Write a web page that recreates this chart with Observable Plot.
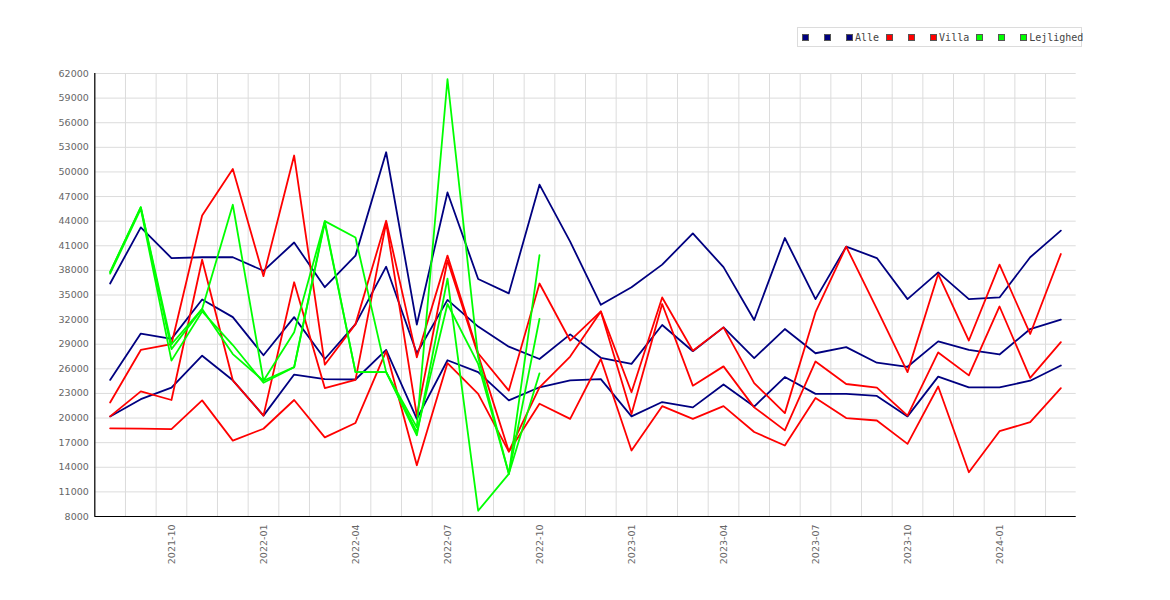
<!DOCTYPE html>
<html><head><meta charset="utf-8">
<script src="https://cdn.jsdelivr.net/npm/d3@7"></script>
<script src="https://cdn.jsdelivr.net/npm/@observablehq/plot@0.6"></script>
<style>
body{margin:0;background:#fff;}
#wrap{position:relative;width:1170px;height:600px;overflow:hidden;}
#chart{position:absolute;left:0;top:0;}
#legend{position:absolute;left:797px;top:27px;width:279px;height:18px;border:1px solid #dcdcdc;background:#fff;
  font-family:"DejaVu Sans Mono",monospace;font-size:10px;color:#444;display:flex;align-items:center;padding-left:4px;box-sizing:content-box;white-space:nowrap;}
.sq{display:inline-block;width:5px;height:5px;border:1px solid #555;margin-right:15px;flex:none;}
.sq.last{margin-right:2px;}
.lb{margin-right:7px;}
</style></head>
<body>
<div id="wrap"><div id="chart"></div><div id="legend"></div></div>
<script>
const months = ["2021-08","2021-09","2021-10","2021-11","2021-12","2022-01","2022-02","2022-03","2022-04","2022-05","2022-06","2022-07","2022-08","2022-09","2022-10","2022-11","2022-12","2023-01","2023-02","2023-03","2023-04","2023-05","2023-06","2023-07","2023-08","2023-09","2023-10","2023-11","2023-12","2024-01","2024-02","2024-03"];
const xTicks = ["2021-10","2022-01","2022-04","2022-07","2022-10","2023-01","2023-04","2023-07","2023-10","2024-01"];
const yTicks = d3.range(8000, 62001, 3000);

const alle1 = [36400,43250,39500,39600,39600,37950,41400,35950,39800,52400,31400,47500,36950,35200,48450,41500,33800,35950,38700,42500,38400,31950,41950,34500,40900,39500,34500,37750,34500,34700,39600,42850];
const alle2 = [24650,30300,29650,34450,32300,27650,32300,27200,31450,38450,27900,34400,31150,28700,27200,30200,27350,26600,31350,28150,31050,27300,30850,27900,28650,26750,26250,29350,28300,27750,30850,32000];
const alle3 = [20200,22300,23700,27600,24600,20300,25300,24750,24700,28300,19900,27050,25600,22150,23750,24600,24750,20200,21950,21300,24100,21400,25000,22950,22950,22700,20200,25050,23750,23750,24550,26400];

const villa1 = [21900,28300,29000,44700,50350,37300,52000,26500,31450,44050,27400,39800,27900,23350,36400,29450,33000,23150,34700,28200,31050,24250,20600,32900,40900,33300,25600,37550,29450,38700,30250,40000];
const villa2 = [20200,23250,22200,39300,24600,20300,36550,23650,24650,43800,20300,39200,27700,15950,23750,27500,33000,20500,33900,23950,26300,21300,18500,26900,24150,23700,20300,28000,25200,33600,24900,29250];
const villa3 = [18750,18700,18650,22150,17250,18700,22200,17650,19400,28150,14250,26700,22950,15900,21750,19900,27200,16050,21450,19900,21450,18300,16650,22450,20000,19700,16850,23850,13400,18400,19500,23650];

const lejl1 = [37800,45700,29000,33300,46000,24550,30450,44000,42000,25600,18900,61300,27400,13200,39850];
const lejl2 = [37800,45700,28400,33300,27800,24550,26200,44000,25600,25600,17900,37000,8700,13200,32100];
const lejl3 = [37600,45500,27000,33000,28900,24300,26200,43800,25600,25600,18300,33900,26600,13200,25450];

const categories = ["Alle","Villa","Lejlighed"];
const colors = ["#000080","#ff0000","#00ff00"];
const seriesByCat = [[alle1,alle2,alle3],[villa1,villa2,villa3],[lejl1,lejl2,lejl3]];

const W = 1170, H = 600, ML = 94.3, MR = 94.3, MT = 73, MB = 84;
const bw = (W - ML - MR) / months.length;

const lineMarks = [];
seriesByCat.forEach((group, c) => group.forEach(vals => {
  lineMarks.push(Plot.line(vals, {x: (d, i) => months[i], y: d => d, stroke: colors[c], strokeWidth: 1.8}));
}));

const chart = Plot.plot({
  width: W, height: H, marginTop: MT, marginBottom: MB, marginLeft: ML, marginRight: MR,
  style: {background: "#fff", fontFamily: "DejaVu Sans", fontSize: "9.5px", color: "#666"},
  x: {type: "band", domain: months, padding: 0, round: false},
  y: {domain: [8000, 62000]},
  marks: [
    Plot.gridY(yTicks, {stroke: "#dcdcdc", strokeOpacity: 1}),
    Plot.ruleX(months, {dx: -bw / 2, stroke: "#dcdcdc"}),
    Plot.ruleX(months.slice(0, 1), {dx: -bw / 2, stroke: "#000", strokeWidth: 1.2}),
    Plot.ruleY([8000], {stroke: "#000", strokeWidth: 1.2}),
    Plot.axisY(yTicks, {tickSize: 0, tickPadding: 6, tickFormat: d => String(d), label: null}),
    Plot.axisX(xTicks, {tickSize: 0, tickPadding: 8, tickRotate: -90, label: null}),
    ...lineMarks
  ]
});
document.getElementById("chart").appendChild(chart);

const legend = document.getElementById("legend");
categories.forEach((name, c) => {
  for (let k = 0; k < 3; k++) {
    const s = document.createElement("span");
    s.className = "sq" + (k === 2 ? " last" : "");
    s.style.background = colors[c];
    legend.appendChild(s);
  }
  const t = document.createElement("span");
  t.className = "lb";
  t.textContent = name;
  legend.appendChild(t);
});
</script>
</body></html>
